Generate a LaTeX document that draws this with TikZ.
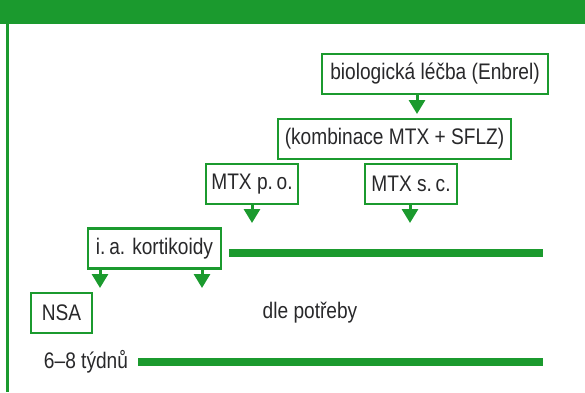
\documentclass[tikz,border=0pt]{standalone}
\usepackage{fontspec}
\setmainfont[FakeStretch=0.85]{Liberation Sans}
\usepackage{xcolor}
\usepackage{tikz}
\usetikzlibrary{arrows.meta, positioning}

\definecolor{ragreen}{RGB}{27,154,46}
\definecolor{ratext}{RGB}{40,40,42}

\begin{document}
\begin{tikzpicture}[
    x=1pt, y=-1pt,
    drugbox/.style={rectangle, draw=ragreen, line width=2.6pt, fill=white, minimum height=40pt, inner xsep=5pt, align=center, text=ratext, font=\fontsize{22.5}{26}\selectfont},
    plain/.style={inner sep=0pt, text=ratext, font=\fontsize{22.5}{26}\selectfont},
    pointer/.style={draw=ragreen, line width=3pt, -{Triangle[width=16pt, length=14pt]}},
    bar/.style={draw=ragreen, line width=8pt}
]
    \useasboundingbox (0,0) rectangle (585,392);
    % frame
    \fill[ragreen] (0,0) rectangle (585,24);
    \fill[ragreen] (6,24) rectangle (8.5,392);

    % therapy boxes
    \node[drugbox, minimum width=226pt] (biologic) at (435,74) {biologická léčba (Enbrel)};
    \node[drugbox, minimum width=233pt] (combo) at (394.5,139) {(kombinace MTX + SFLZ)};
    \node[drugbox, minimum width=92pt] (mtx_po) at (252,184) {MTX p.\,o.};
    \node[drugbox, minimum width=92pt] (mtx_sc) at (411,184) {MTX s.\,c.};
    \node[drugbox, minimum width=133pt] (steroids) at (154.5,248.5) {i.\,a. kortikoidy};
    \node[drugbox, minimum width=61pt] (nsa) at (61.5,313) {NSA};

    % free texts
    \node[plain] (as_needed) at (310,313) {dle potřeby};
    \node[plain] (weeks) at (86,362) {6–8 týdnů};

    % arrow tips
    \coordinate (tip_bio) at (417,114);
    \coordinate (tip_po) at (252,223);
    \coordinate (tip_sc) at (410,223);
    \coordinate (tip_nsa) at (100,288);
    \coordinate (tip_mid) at (202,288);
    \coordinate (end_top) at (543,253);
    \coordinate (end_low) at (543,362);

    % connectors
    \draw[pointer] (biologic.south -| tip_bio) -- (tip_bio);
    \draw[pointer] (mtx_po.south) -- (tip_po);
    \draw[pointer] (mtx_sc.south -| tip_sc) -- (tip_sc);
    \draw[pointer] (steroids.south -| tip_nsa) -- (tip_nsa);
    \draw[pointer] (steroids.south -| tip_mid) -- (tip_mid);

    % duration bars
    \draw[bar] ([xshift=7pt]steroids.east |- end_top) -- (end_top);
    \draw[bar] ([xshift=10pt]weeks.east) -- (end_low);
\end{tikzpicture}
\end{document}
